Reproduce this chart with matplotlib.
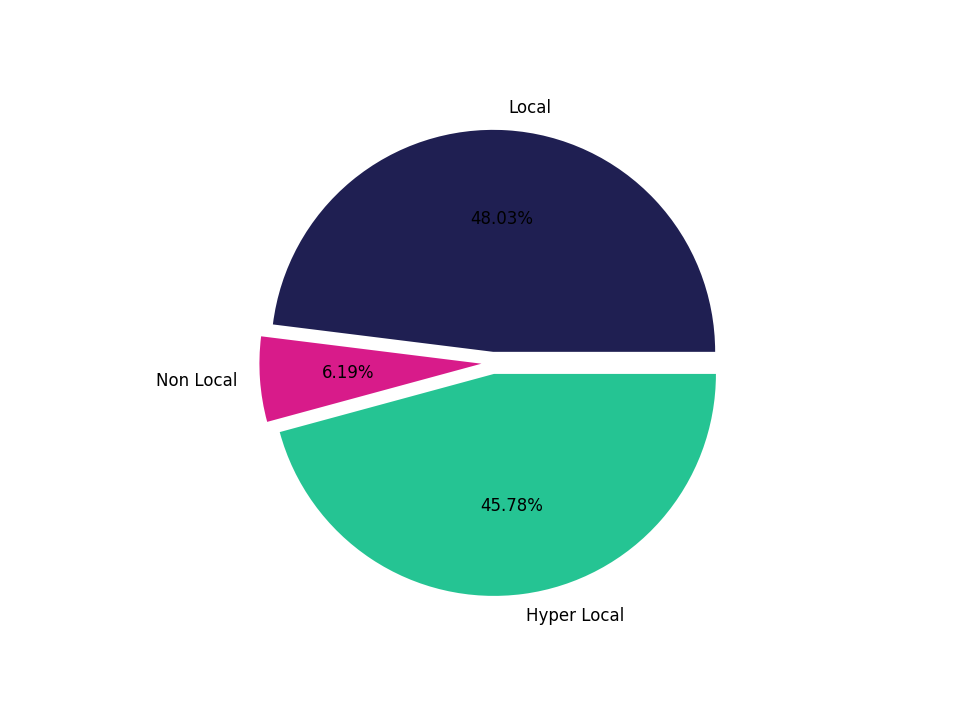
import matplotlib
matplotlib.use('Agg')
import matplotlib.pyplot as plt

labels = ['Local', 'Non Local', 'Hyper Local']
values = [48.03, 6.19, 45.78]
colors = ['#1f1f52', '#d81b8a', '#25c493']
explode = [0.05, 0.05, 0.05]

fig = plt.figure(figsize=(9.6, 7.2), dpi=100)
ax = fig.add_axes([0.158, 0.140, 0.7, 0.712])
ax.pie(values, labels=labels, colors=colors, explode=explode,
       autopct='%1.2f%%', textprops={'fontsize': 12})
ax.axis('equal')
fig.savefig('out.png', dpi=100)
